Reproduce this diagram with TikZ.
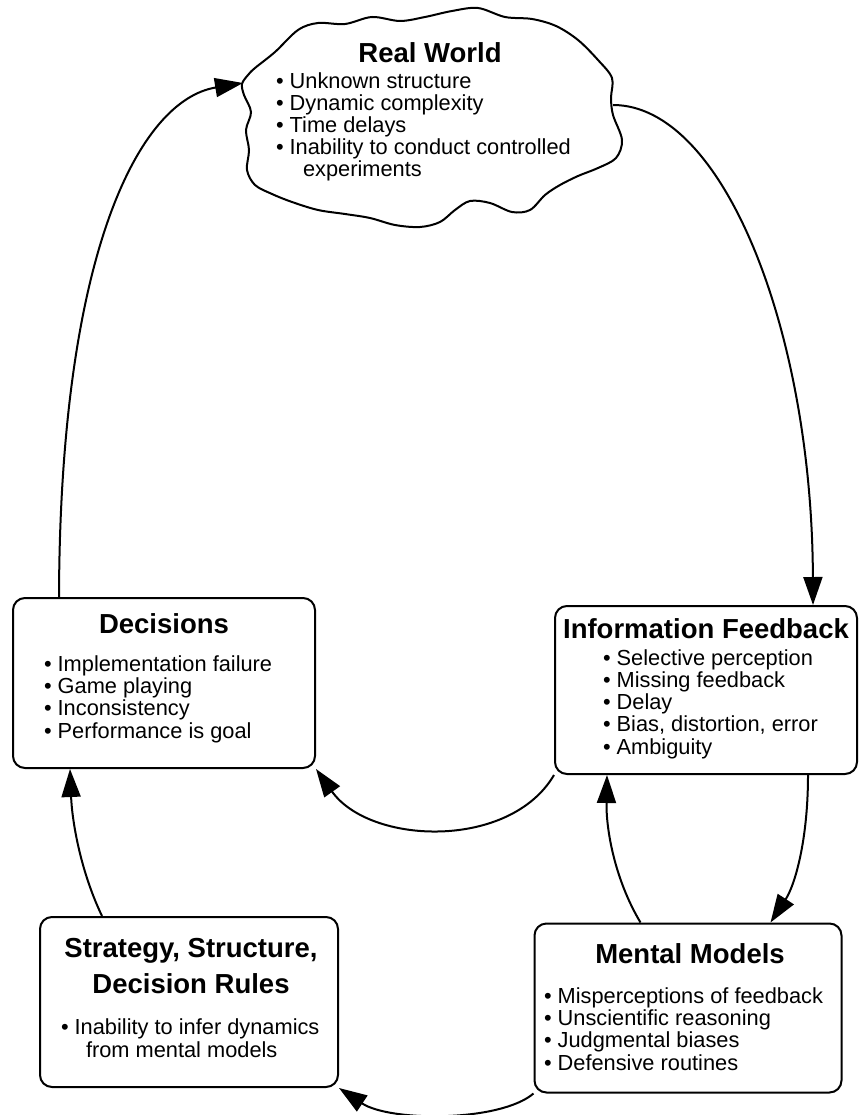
\documentclass[tikz,border=0pt]{standalone}
\usepackage{fontspec}
\setmainfont{Liberation Sans}
\usetikzlibrary{arrows.meta,positioning}

\newcommand{\bul}{\textbullet\ }

\begin{document}
\begin{tikzpicture}
        [x=1pt,y=-1pt,line width=2pt,
         panel/.style={draw,rounded corners=12pt,inner sep=0pt},
         head/.style={font=\fontsize{27.5}{36}\selectfont\bfseries,inner sep=0pt,anchor=base},
         items/.style={font=\fontsize{21.8}{22.2}\selectfont,align=left,inner sep=0pt,anchor=base west},
         flow/.style={-{Triangle[length=28pt,width=19pt]},line width=2pt}]
        \fill[white] (0,0) rectangle (859,1115);
        \useasboundingbox (0,0) rectangle (859,1115);

        % the cloud
        \draw[line width=2pt] plot[smooth cycle,tension=.55] coordinates {
          (255,68) (275,52) (298,30) (318,23) (345,24) (372,17) (400,21) (425,17)
          (452,11) (478,8) (505,17) (532,19) (556,26) (578,40) (598,60) (612,78)
          (611,98) (613,115) (622,140) (616,158) (598,168) (578,176)
          (560,185) (545,195) (530,210) (512,212) (490,203) (470,201) (455,210)
          (440,222) (420,227) (395,225) (370,218) (345,214) (318,210) (292,202)
          (272,194) (255,185) (247,170) (249,150) (246,130) (251,112) (244,95)
          (242,84) (248,75)};
        \coordinate (rwwest) at (243,83);
        \coordinate (rweast) at (613,105);
        \node[head] (rwT) at (430,63) {Real World};
        % base = last line
        \node[items] (rwL) at (275,177) {\bul Unknown structure\\ \bul Dynamic complexity\\
          \bul Time delays\\ \bul Inability to conduct controlled\\ \hspace*{27pt}experiments};

        % boxes
        \node[panel,minimum width=302pt,minimum height=170pt] (dec) at (164,683) {};
        \node[head] (decT) at (164,633) {Decisions};
        \node[items] (decL) at (43,738) {\bul Implementation failure\\ \bul Game playing\\
          \bul Inconsistency\\ \bul Performance is goal};

        \node[panel,minimum width=302pt,minimum height=168pt] (if) at (706,690) {};
        \node[head] (ifT) at (706,638) {Information Feedback};
        \node[items] (ifL) at (602,754) {\bul Selective perception\\ \bul Missing feedback\\
          \bul Delay\\ \bul Bias, distortion, error\\ \bul Ambiguity};

        \node[panel,minimum width=298pt,minimum height=170pt] (str) at (189,1002) {};
        \node[head,align=center] (strT) at (191,993) {Strategy, Structure,\\ Decision Rules};
        \node[items] (strL) at (60,1057) {\bul Inability to infer dynamics\\ \hspace*{25pt}from mental models};

        \node[panel,minimum width=307pt,minimum height=169pt] (mm) at (688,1008) {};
        \node[head] (mmT) at (690,963) {Mental Models};
        \node[items] (mmL) at (543,1070) {\bul Misperceptions of feedback\\ \bul Unscientific reasoning\\
          \bul Judgmental biases\\ \bul Defensive routines};

        % the loops
        \draw[flow] ([xshift=47pt]dec.north west) .. controls (60,250) and (140,100) .. (rwwest);
        \draw[flow] (rweast) .. controls (723,105) and (812,330) .. ([xshift=-45pt]if.north east);
        \draw[flow] (if.south west) .. controls (510,850) and (370,845) .. (dec.south east);
        \draw[flow] ([xshift=107pt]mm.north west) .. controls (615,880) and (606,830) .. ([xshift=53pt]if.south west);
        \draw[flow] ([xshift=-50pt]if.south east) .. controls (808,840) and (795,885) .. ([xshift=-72pt]mm.north east);
        \draw[flow] (mm.south west) .. controls (500,1122) and (390,1122) .. (str.south east);
        \draw[flow] ([xshift=63pt]str.north west) .. controls (80,870) and (72,820) .. ([xshift=58pt]dec.south west);

      \end{tikzpicture}
\end{document}
